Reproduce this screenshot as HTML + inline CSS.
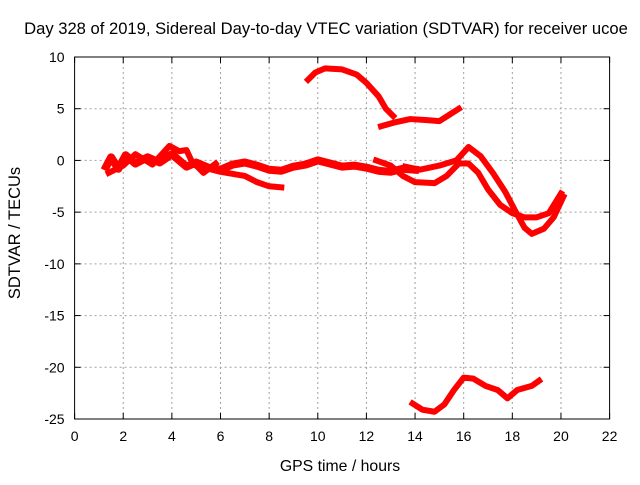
<!DOCTYPE html>
<html><head><meta charset="utf-8"><style>
body{margin:0;background:#fff;font-family:"Liberation Sans",sans-serif}
text{font-family:"Liberation Sans",sans-serif;font-size:14px;fill:#000}
</style></head><body>
<svg width="640" height="480" xmlns="http://www.w3.org/2000/svg">
<rect width="640" height="480" fill="#fff"/>
<g id="grid"></g>
<g id="series"></g>
<rect x="74.6" y="57" width="535" height="362" fill="none" stroke="#000" stroke-width="1"/>
<g id="ticks"></g>
<text x="326" y="34" text-anchor="middle" style="font-size:16.6px">Day 328 of 2019, Sidereal Day-to-day VTEC variation (SDTVAR) for receiver ucoe</text>
<text x="340" y="471" text-anchor="middle" style="font-size:15.8px">GPS time / hours</text>
<text transform="translate(20,233) rotate(-90)" text-anchor="middle" style="font-size:16.5px">SDTVAR / TECUs</text>
</svg>
<script>
const xTicks=[0,2,4,6,8,10,12,14,16,18,20,22];
const yTicks=[10,5,0,-5,-10,-15,-20,-25];
const trackMain=[[1.3,-0.6],[1.5,0.3],[1.8,-0.8],[2.1,0.5],[2.5,-0.3],[3,0.3],[3.5,-0.2],[4,0.6],[4.3,0],[4.6,-0.6],[5,-0.2],[5.5,-0.7],[6,-0.9],[6.5,-0.4],[7,-0.2],[7.5,-0.5],[8,-0.9],[8.5,-1.0],[9,-0.6],[9.5,-0.4],[10,0],[10.5,-0.3],[11,-0.6],[11.5,-0.5],[12,-0.7],[12.5,-1],[13,-1.1],[13.5,-0.8],[14,-0.9]];
const trackNoise=[[1.4,-1.2],[2,-0.5],[2.5,0.6],[3.2,-0.4],[3.9,1.4],[4.3,0.9],[4.6,1.0],[4.8,0],[5.3,-1.2],[5.8,-0.3]];
const trackLow1=[[5,-0.5],[6,-1.1],[7,-1.5],[7.5,-2.1],[8,-2.5],[8.5,-2.6]];
const trackMid1=[[12.4,0],[13,-0.5],[13.5,-1.5],[14,-2.1],[14.8,-2.2],[15.3,-1.5],[15.8,-0.3],[16.2,-0.3],[16.6,-1.2],[17,-2.8],[17.5,-4.3],[18,-5.1],[18.5,-5.5],[19,-5.5],[19.5,-5.1],[20,-3.2]];
const trackMid2=[[13.6,-0.6],[14.2,-0.9],[15,-0.5],[15.7,0],[16.2,1.3],[16.7,0.4],[17.2,-1.2],[17.7,-3],[18.1,-4.8],[18.5,-6.5],[18.8,-7.1],[19.3,-6.6],[19.7,-5.5],[20.1,-3.5]];
const trackTop1=[[9.6,7.8],[9.9,8.5],[10.3,8.9],[11,8.8],[11.6,8.3],[12,7.5],[12.5,6.2],[12.8,5],[13.1,4.3]];
const trackTop2=[[12.6,3.3],[13.2,3.7],[13.8,4],[14.5,3.9],[15,3.8],[15.4,4.4],[15.8,5]];
const trackBottom=[[13.9,-23.5],[14.3,-24.1],[14.8,-24.3],[15.2,-23.6],[15.6,-22.2],[16,-21],[16.4,-21.1],[16.9,-21.8],[17.4,-22.2],[17.8,-23],[18.2,-22.2],[18.8,-21.8],[19.1,-21.3]];
const tracks=[trackMain,trackNoise,trackLow1,trackMid1,trackMid2,trackTop1,trackTop2,trackBottom];
const L=74.6,R=609.6,T=57,B=419;
const sx=v=>L+(v-0)/(22-0)*(R-L);
const sy=v=>T+(10-v)/(10+25)*(B-T);
const NS='http://www.w3.org/2000/svg';
const g=document.getElementById('grid'),tk=document.getElementById('ticks'),s=document.getElementById('series');
function mk(tag,a,p){const e=document.createElementNS(NS,tag);for(const k in a)e.setAttribute(k,a[k]);p.appendChild(e);return e;}
xTicks.forEach(v=>{const x=sx(v);
 if(v>0&&v<22){const l=mk('line',{x1:x,x2:x,y1:T,y2:B,stroke:'#a0a0a0','stroke-dasharray':'2,3'},g);}
 mk('line',{x1:x,x2:x,y1:B,y2:B-6,stroke:'#000'},tk);mk('line',{x1:x,x2:x,y1:T,y2:T+6,stroke:'#000'},tk);
 const t=mk('text',{x:x,y:B+22,'text-anchor':'middle'},tk);t.textContent=v;
 });
yTicks.forEach(v=>{const y=sy(v);
 if(v<10&&v>-25){const l=mk('line',{x1:L,x2:R,y1:y,y2:y,stroke:'#a0a0a0','stroke-dasharray':'2,3'},g);}
 mk('line',{x1:L,x2:L+6,y1:y,y2:y,stroke:'#000'},tk);mk('line',{x1:R,x2:R-6,y1:y,y2:y,stroke:'#000'},tk);
 const t=mk('text',{x:L-10,y:y+5,'text-anchor':'end'},tk);t.textContent=v;
 });
tracks.forEach((tr,i)=>{const p=mk('polyline',{points:tr.map(d=>sx(d[0])+','+sy(d[1])).join(' '),fill:'none',stroke:'#f00','stroke-width':i===0?8:6,'stroke-linejoin':'round','stroke-linecap':'square'},s);
 });
</script>
</body></html>
